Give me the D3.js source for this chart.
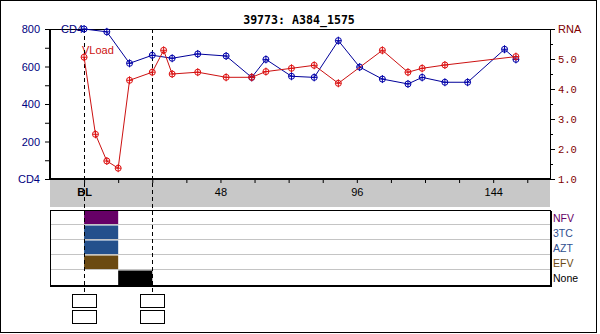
<!DOCTYPE html>
<html><head><meta charset="utf-8">
<script src="https://cdn.jsdelivr.net/npm/d3@7"></script>
<style>body{margin:0;background:#fff}svg{display:block}</style>
</head><body>
<svg id="c" width="600" height="334"></svg>
<script>
const title = "39773: A384_1575";
const cd4Weeks = [0, 8, 16, 24, 31, 40, 50, 59, 64, 73, 81, 89.5, 97, 105, 114, 119, 127, 135, 148, 152];
const cd4Values = [800, 785, 617, 660, 644, 667, 656, 542, 638, 548, 542, 738, 597, 533, 507, 542, 516, 516, 692, 638];
const rnaWeeks = [0, 4, 8, 12, 16, 24, 28, 31, 40, 50, 59, 64, 73, 81, 89.5, 105, 114, 119, 127, 152];
const rnaValues = [5.06, 2.49, 1.60, 1.36, 4.29, 4.56, 5.29, 4.50, 4.56, 4.39, 4.39, 4.58, 4.69, 4.79, 4.19, 5.29, 4.56, 4.69, 4.80, 5.08];
const cd4Ticks = [0, 200, 400, 600, 800];
const rnaTicks = [1, 2, 3, 4, 5, 6];
const weekTicks = [0, 48, 96, 144];
const drugs = ["NFV", "3TC", "AZT", "EFV", "None"];
const drugColors = ["#660066", "#24508c", "#24508c", "#6b4a12", "#000000"];
const drugLabelColors = ["#660066", "#2f4f8f", "#2f4f8f", "#6b4a12", "#000000"];
const regimens = [
  {drug: "NFV", start: 0, end: 12},
  {drug: "3TC", start: 0, end: 12},
  {drug: "AZT", start: 0, end: 12},
  {drug: "EFV", start: 0, end: 12},
  {drug: "None", start: 12, end: 24}
];
const markerWeeks = [0, 24];

const svg = d3.select("#c");
const L = 50, R = 550, T = 29, B = 179;
const x = d3.scaleLinear().domain([-12, 164]).range([L, R]);
const yC = d3.scaleLinear().domain([0, 800]).range([B, T]);
const yR = d3.scaleLinear().domain([1, 6]).range([B, T]);
const sans = "Liberation Sans, Arial, sans-serif";
const mono = "Liberation Mono, Courier New, monospace";

// outer border
svg.append("rect").attr("x", 0.5).attr("y", 0.5).attr("width", 596).attr("height", 332)
  .attr("fill", "none").attr("stroke", "#000");

// title
svg.append("text").attr("x", 299).attr("y", 24).attr("text-anchor", "middle")
  .attr("font-family", "DejaVu Sans Mono, monospace").attr("font-weight", "bold")
  .attr("font-size", 11.6).text(title);

// grey x band
svg.append("rect").attr("x", L).attr("y", B).attr("width", R - L).attr("height", 28).attr("fill", "#c8c8c8");

// plot frame
svg.append("line").attr("x1", L).attr("x2", R).attr("y1", T + 0.5).attr("y2", T + 0.5).attr("stroke", "#000");
svg.append("line").attr("x1", R + 0.5).attr("x2", R + 0.5).attr("y1", T).attr("y2", B).attr("stroke", "#000");
svg.append("line").attr("x1", L).attr("x2", L).attr("y1", T).attr("y2", B + 1).attr("stroke", "#000").attr("stroke-width", 2);

// left axis
const leftAxis = d3.axisLeft(yC).tickValues(d3.range(0, 801, 100)).tickSize(4)
  .tickFormat(d => d === 0 ? "CD4" : (d % 200 === 0 ? d : ""));
const gl = svg.append("g").attr("transform", `translate(${L - 1},0)`).call(leftAxis);
gl.select(".domain").remove();
gl.selectAll("text").attr("font-family", sans).attr("font-size", 11).attr("fill", "#000080").attr("dx", -2);
gl.selectAll("line").attr("stroke", "#000");

// right axis
const rightAxis = d3.axisRight(yR).tickValues(d3.range(1, 6.01, 0.5)).tickSize(5)
  .tickFormat(d => d === 6 ? "RNA" : (Number.isInteger(d) ? d.toFixed(1) : ""));
const gr = svg.append("g").attr("transform", `translate(${R},0)`).call(rightAxis);
gr.select(".domain").remove();
gr.selectAll(".tick").filter(d => !Number.isInteger(d)).select("line").attr("x2", 3);
gr.selectAll("text").attr("font-family", mono).attr("font-size", 10.5).attr("fill", "#800000").attr("dx", 0);
gr.selectAll(".tick").filter(d => d === 6).select("text").attr("font-family", sans).attr("font-size", 11);
gr.selectAll("line").attr("stroke", "#000");

// bottom axis
const bottomAxis = d3.axisBottom(x).tickValues(d3.range(0, 164, 12)).tickSize(4)
  .tickFormat(d => weekTicks.includes(d) ? (d === 0 ? "BL" : d) : "");
const gb = svg.append("g").attr("transform", `translate(0,${B})`).call(bottomAxis);
gb.select(".domain").remove();
gb.selectAll("text").attr("font-family", sans).attr("font-size", 11).attr("fill", "#000").attr("dy", "0.9em");
gb.selectAll(".tick").filter(d => d === 0).select("text").attr("font-weight", "bold");
gb.selectAll("line").attr("stroke", "#000");
svg.append("line").attr("x1", L - 1).attr("x2", R + 1).attr("y1", B).attr("y2", B).attr("stroke", "#000").attr("stroke-width", 2);

// series labels
svg.append("text").attr("x", 61).attr("y", T + 4).attr("font-family", sans).attr("font-size", 11)
  .attr("fill", "#000080").text("CD4");
svg.append("text").attr("x", 82).attr("y", 54).attr("font-family", sans).attr("font-size", 11)
  .attr("fill", "#cc1111").text("VLoad");

// drug panel
const P0 = 210, rowH = 15;
const yD = d3.scaleBand().domain(drugs).range([P0, P0 + rowH * drugs.length]);
svg.selectAll(".bar").data(regimens).join("rect")
  .attr("x", d => x(d.start)).attr("width", d => x(d.end) - x(d.start))
  .attr("y", d => yD(d.drug) + 0.5).attr("height", yD.bandwidth() - 0.5)
  .attr("fill", d => drugColors[drugs.indexOf(d.drug)]);
svg.selectAll(".div").data(drugs.slice(1)).join("line")
  .attr("x1", L).attr("x2", R).attr("y1", d => yD(d) - 0.5).attr("y2", d => yD(d) - 0.5)
  .attr("stroke", "#c4c4c4");
svg.append("rect").attr("x", L + 0.5).attr("y", P0 + 0.5).attr("width", R - L).attr("height", rowH * drugs.length)
  .attr("fill", "none").attr("stroke", "#000");
svg.append("line").attr("x1", L).attr("x2", R + 1.5).attr("y1", P0 + rowH * drugs.length + 1.5).attr("y2", P0 + rowH * drugs.length + 1.5).attr("stroke", "#000");
svg.append("line").attr("x1", R + 1.5).attr("x2", R + 1.5).attr("y1", P0 + 1).attr("y2", P0 + rowH * drugs.length + 2).attr("stroke", "#000");
svg.selectAll(".dl").data(drugs).join("text")
  .attr("x", R + 3).attr("y", d => yD(d) + rowH / 2 + 4)
  .attr("font-family", sans).attr("font-size", 10.5)
  .attr("fill", (d, i) => drugLabelColors[i]).text(d => d);

// dashed markers
svg.selectAll(".dash").data(markerWeeks).join("line")
  .attr("x1", d => Math.round(x(d)) + 0.5).attr("x2", d => Math.round(x(d)) + 0.5)
  .attr("y1", T).attr("y2", 294).attr("stroke", "#000").attr("stroke-dasharray", "4,3");
markerWeeks.forEach(w => {
  const cx = Math.round(x(w)) + 0.5;
  [294.5, 310.5].forEach(yy => {
    svg.append("rect").attr("x", cx - 12).attr("y", yy).attr("width", 24).attr("height", 13)
      .attr("fill", "#fff").attr("stroke", "#000");
  });
});

// series
function series(weeks, vals, ys, lineColor, markColor) {
  const pts = weeks.map((w, i) => [x(w), ys(vals[i])]);
  svg.append("path").attr("d", d3.line()(pts)).attr("fill", "none").attr("stroke", lineColor).attr("stroke-width", 1);
  const g = svg.append("g");
  pts.forEach(p => {
    g.append("circle").attr("cx", p[0]).attr("cy", p[1]).attr("r", 3).attr("fill", "none").attr("stroke", markColor);
    g.append("line").attr("x1", p[0]).attr("x2", p[0]).attr("y1", p[1] - 4).attr("y2", p[1] + 4).attr("stroke", markColor);
    g.append("line").attr("x1", p[0] - 3).attr("x2", p[0] + 3).attr("y1", p[1]).attr("y2", p[1]).attr("stroke", markColor);
  });
}
series(cd4Weeks, cd4Values, yC, "#000099", "#0000aa");
series(rnaWeeks, rnaValues, yR, "#cc1111", "#dd1111");
</script>
</body></html>
